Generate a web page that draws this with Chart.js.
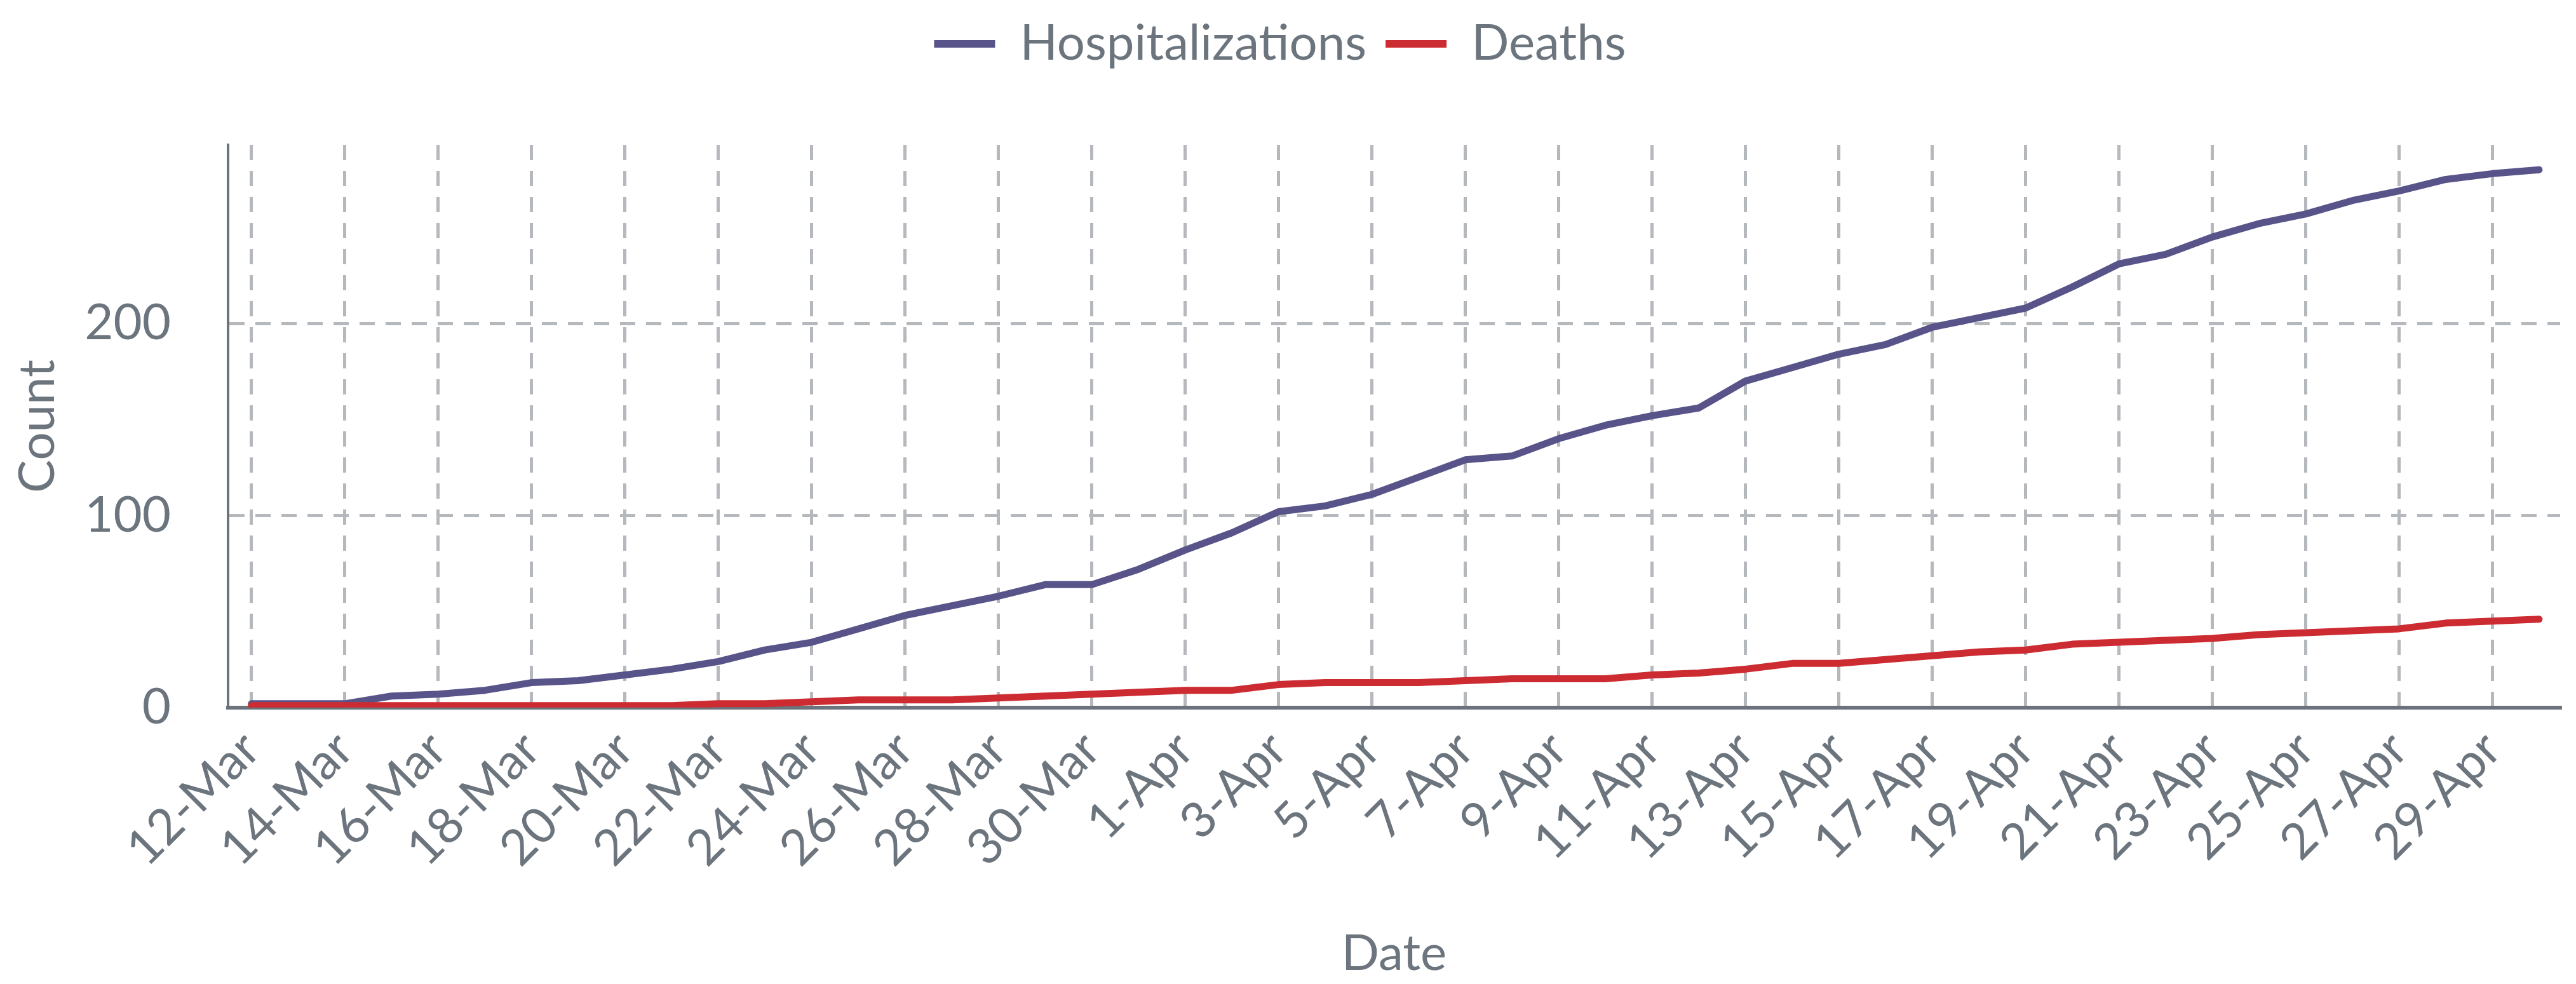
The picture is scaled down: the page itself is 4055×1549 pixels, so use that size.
<!DOCTYPE html>
<html>
<head>
<meta charset="utf-8">
<script src="https://cdn.jsdelivr.net/npm/chart.js@4.4.1/dist/chart.umd.min.js"></script>
<style>
  html, body { margin: 0; padding: 0; background: #ffffff; }
  #wrap { width: 4055px; height: 1549px; position: relative; }
</style>
</head>
<body>
<div id="wrap"><canvas id="covidChart"></canvas></div>
<script>
// dates on the x axis (one per day)
var dates = ["12-Mar", "13-Mar", "14-Mar", "15-Mar", "16-Mar", "17-Mar", "18-Mar", "19-Mar", "20-Mar", "21-Mar",
    "22-Mar", "23-Mar", "24-Mar", "25-Mar", "26-Mar", "27-Mar", "28-Mar", "29-Mar", "30-Mar", "31-Mar",
    "1-Apr", "2-Apr", "3-Apr", "4-Apr", "5-Apr", "6-Apr", "7-Apr", "8-Apr", "9-Apr", "10-Apr",
    "11-Apr", "12-Apr", "13-Apr", "14-Apr", "15-Apr", "16-Apr", "17-Apr", "18-Apr", "19-Apr", "20-Apr",
    "21-Apr", "22-Apr", "23-Apr", "24-Apr", "25-Apr", "26-Apr", "27-Apr", "28-Apr", "29-Apr", "30-Apr"];

var hospitalizations = [2, 2, 2, 6, 7, 9, 13, 14, 17, 20,
    24, 30, 34, 41, 48, 53, 58, 64, 64, 72,
    82, 91, 102, 105, 111, 120, 129, 131, 140, 147,
    152, 156, 170, 177, 184, 189, 198, 203, 208, 219,
    231, 236, 245, 252, 257, 264, 269, 275, 278, 280];

var deaths = [1, 1, 1, 1, 1, 1, 1, 1, 1, 1,
    2, 2, 3, 4, 4, 4, 5, 6, 7, 8,
    9, 9, 12, 13, 13, 13, 14, 15, 15, 15,
    17, 18, 20, 23, 23, 25, 27, 29, 30, 33,
    34, 35, 36, 38, 39, 40, 41, 44, 45, 46];

var yTicks = [0, 100, 200];

var textColor = "#6c757d";
var gridColor = "#b5b8bc";
var axisColor = "#6b737c";

function toPoints(values) {
    return values.map(function (v, i) { return { x: i, y: v }; });
}

Chart.defaults.font.family = "Lato, 'Open Sans', sans-serif";
Chart.defaults.color = textColor;

// push the plot area down a bit below the legend
var legendGap = {
    id: "legendGap",
    beforeInit: function (chart) {
        var origFit = chart.legend.fit;
        chart.legend.fit = function () {
            origFit.bind(chart.legend)();
            this.height += 110;
        };
    }
};

var ctx = document.getElementById("covidChart").getContext("2d");

new Chart(ctx, {
    type: "line",
    data: {
        datasets: [{
            label: "Hospitalizations",
            data: toPoints(hospitalizations),
            borderColor: "#58548a",
            backgroundColor: "#58548a",
            borderWidth: 11,
            pointRadius: 0,
            tension: 0,
            borderCapStyle: "round",
            borderJoinStyle: "round",
            order: 2
        }, {
            label: "Deaths",
            data: toPoints(deaths),
            borderColor: "#cc2c31",
            backgroundColor: "#cc2c31",
            borderWidth: 11,
            pointRadius: 0,
            tension: 0,
            borderCapStyle: "round",
            borderJoinStyle: "round",
            order: 1
        }]
    },
    options: {
        responsive: true,
        maintainAspectRatio: false,
        animation: false,
        layout: { padding: { left: 0, right: 25, top: 0, bottom: 0 } },
        plugins: {
            legend: {
                position: "top",
                labels: {
                    boxWidth: 96,
                    boxHeight: 12,
                    padding: 30,
                    color: textColor,
                    font: { size: 78 },
                    sort: function (a, b) { return a.datasetIndex - b.datasetIndex; },
                    generateLabels: function (chart) {
                        var items = Chart.defaults.plugins.legend.labels.generateLabels(chart);
                        items.forEach(function (it) {
                            it.lineWidth = 0;
                            it.fillStyle = it.strokeStyle;
                        });
                        return items;
                    }
                }
            },
            tooltip: { enabled: false }
        },
        scales: {
            x: {
                type: "linear",
                min: -0.5,
                max: 49.45,
                border: { display: true, color: axisColor, width: 6, dash: [24, 17] },
                grid: { display: true, color: gridColor, lineWidth: 5, drawTicks: false },
                ticks: {
                    stepSize: 2,
                    includeBounds: false,
                    autoSkip: false,
                    minRotation: 45,
                    maxRotation: 45,
                    padding: 20,
                    color: textColor,
                    font: { size: 78 },
                    callback: function (value) { return dates[value]; }
                },
                title: {
                    display: true,
                    text: "Date",
                    color: textColor,
                    font: { size: 78 },
                    padding: { top: 53, bottom: 0 }
                }
            },
            y: {
                min: 0,
                max: 293,
                border: { display: true, color: axisColor, width: 4, dash: [24, 17] },
                grid: { display: true, color: gridColor, lineWidth: 5, drawTicks: false },
                afterBuildTicks: function (scale) {
                    scale.ticks = yTicks.map(function (v) { return { value: v }; });
                },
                afterFit: function (scale) {
                    scale.width = 359;
                },
                ticks: {
                    padding: 90,
                    color: textColor,
                    font: { size: 78 }
                },
                title: {
                    display: true,
                    text: "Count",
                    color: textColor,
                    font: { size: 78, lineHeight: 1.2 },
                    padding: { top: 13, bottom: 10 }
                }
            }
        }
    },
    plugins: [legendGap]
});
</script>
</body>
</html>
